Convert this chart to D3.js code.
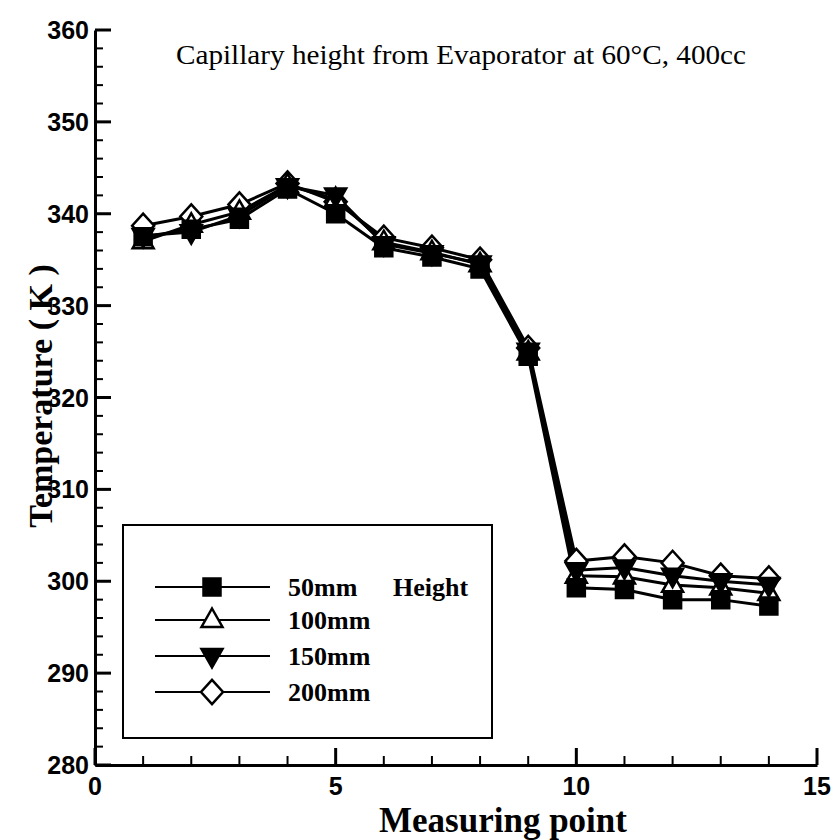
<!DOCTYPE html>
<html><head><meta charset="utf-8">
<script src="https://cdn.jsdelivr.net/npm/d3@7"></script>
<style>body{margin:0;background:#fff}svg{display:block}</style>
</head><body>
<script>
const points = [1,2,3,4,5,6,7,8,9,10,11,12,13,14];
const h50  = [337.5,338.3,339.4,342.7,340.0,336.3,335.3,334.0,324.5,299.3,299.1,298.0,298.0,297.3];
const h100 = [337.0,338.8,340.2,343.1,341.6,336.9,335.8,334.5,324.9,300.6,300.5,299.6,299.3,298.7];
const h150 = [337.6,338.0,339.8,343.0,342.0,336.7,335.7,334.6,325.1,301.2,301.5,300.6,300.0,299.6];
const h200 = [338.7,339.7,341.0,343.3,341.3,337.4,336.3,335.0,325.4,302.2,302.7,302.0,300.6,300.3];
const seriesNames = ["50mm","100mm","150mm","200mm"];
const xTicks = [0,5,10,15];
const yTicks = [280,290,300,310,320,330,340,350,360];
const titleText = "Capillary height from Evaporator at 60°C, 400cc";
const xTitle = "Measuring point";
const yTitle = "Temperature ( K )";
const legendNote = "Height";

const W=840,H=840;
const svg=d3.select("body").append("svg").attr("width",W).attr("height",H);
const x=d3.scaleLinear().domain([0,15]).range([95,817]);
const y=d3.scaleLinear().domain([280,360]).range([765,30]);

// custom symbols (size = half extent)
const sq={draw(c,s){c.rect(-s,-s,2*s,2*s);}};
const triUp={draw(c,s){const h=s*1.15;c.moveTo(0,-h);c.lineTo(s*1.05,h*0.6);c.lineTo(-s*1.05,h*0.6);c.closePath();}};
const triDown={draw(c,s){const h=s*1.15;c.moveTo(0,h);c.lineTo(s*1.05,-h*0.6);c.lineTo(-s*1.05,-h*0.6);c.closePath();}};
const dia={draw(c,s){c.moveTo(0,-s*1.1);c.lineTo(s,0);c.lineTo(0,s*1.1);c.lineTo(-s,0);c.closePath();}};

const series=[
 {name:seriesNames[0],vals:h50,type:sq,size:8.5,fill:"#000"},
 {name:seriesNames[1],vals:h100,type:triUp,size:10,fill:"#fff"},
 {name:seriesNames[2],vals:h150,type:triDown,size:10,fill:"#000"},
 {name:seriesNames[3],vals:h200,type:dia,size:11,fill:"#fff"}
];

// axes
const gx=svg.append("g").attr("transform","translate(0,765)");
gx.call(d3.axisBottom(x).tickValues(d3.range(0,16,1)).tickSize(0).tickFormat(""));
gx.select(".domain").attr("stroke","#000").attr("stroke-width",3);
gx.selectAll(".tick line").remove();
gx.selectAll(".mt").data(d3.range(0,16,1)).enter().append("line")
 .attr("x1",d=>x(d)).attr("x2",d=>x(d)).attr("y1",0).attr("y2",d=>d%5===0?-17:-9)
 .attr("stroke","#000").attr("stroke-width",d=>d%5===0?3:2);
gx.selectAll(".lab").data(xTicks).enter().append("text")
 .attr("x",d=>x(d)).attr("y",30).attr("text-anchor","middle").attr("fill","#000")
 .attr("font-family","Liberation Sans, Arial, sans-serif").attr("font-weight","bold").attr("font-size",25)
 .text(d=>d);

const gy=svg.append("g").attr("transform","translate(95,0)");
gy.call(d3.axisLeft(y).tickValues([]).tickSize(0));
gy.select(".domain").attr("stroke","#000").attr("stroke-width",3);
gy.selectAll(".mt").data(d3.range(280,361,2)).enter().append("line")
 .attr("y1",d=>y(d)).attr("y2",d=>y(d)).attr("x1",0).attr("x2",d=>d%10===0?16:8)
 .attr("stroke","#000").attr("stroke-width",d=>d%10===0?3:2);
gy.selectAll(".lab").data(yTicks).enter().append("text")
 .attr("x",-6).attr("y",d=>y(d)+9).attr("text-anchor","end").attr("fill","#000")
 .attr("font-family","Liberation Sans, Arial, sans-serif").attr("font-weight","bold").attr("font-size",25)
 .text(d=>d);

// titles
svg.append("text").attr("x",461).attr("y",64).attr("text-anchor","middle")
 .attr("font-family","Liberation Serif, Times New Roman, serif").attr("font-size",27)
 .attr("textLength",570).attr("lengthAdjust","spacingAndGlyphs").text(titleText);
svg.append("text").attr("x",503).attr("y",832).attr("text-anchor","middle")
 .attr("font-family","Liberation Serif, Times New Roman, serif").attr("font-weight","bold").attr("font-size",35)
 .text(xTitle);
svg.append("text").attr("transform","translate(52,396) rotate(-90)").attr("text-anchor","middle")
 .attr("font-family","Liberation Serif, Times New Roman, serif").attr("font-weight","bold").attr("font-size",34)
 .text(yTitle);

// lines
const line=d3.line().x((d,i)=>x(points[i])).y(d=>y(d));
series.forEach(s=>{
 svg.append("path").datum(s.vals).attr("d",line).attr("fill","none").attr("stroke","#000").attr("stroke-width",3);
});
// markers
[3,1,2,0].forEach(k=>{
 const s=series[k];
 svg.selectAll(".m"+k).data(s.vals).enter().append("path")
  .attr("transform",(d,i)=>`translate(${x(points[i])},${y(d)})`)
  .attr("d",d3.symbol().type(s.type).size(s.size))
  .attr("fill",s.fill).attr("stroke","#000").attr("stroke-width",2.5);
});

// legend
const lg=svg.append("g");
lg.append("rect").attr("x",123).attr("y",525).attr("width",369).attr("height",213)
 .attr("fill","#fff").attr("stroke","#000").attr("stroke-width",2);
const rows=[587,620,656,692];
series.forEach((s,k)=>{
 lg.append("line").attr("x1",155).attr("x2",270).attr("y1",rows[k]).attr("y2",rows[k]).attr("stroke","#000").attr("stroke-width",2);
 lg.append("path").attr("transform",`translate(212,${rows[k]})`).attr("d",d3.symbol().type(s.type).size(s.size))
  .attr("fill",s.fill).attr("stroke","#000").attr("stroke-width",2.5);
 lg.append("text").attr("x",288).attr("y",rows[k]+9)
  .attr("font-family","Liberation Serif, Times New Roman, serif").attr("font-weight","bold").attr("font-size",26)
  .text(s.name);
});
lg.append("text").attr("x",393).attr("y",rows[0]+9)
 .attr("font-family","Liberation Serif, Times New Roman, serif").attr("font-weight","bold").attr("font-size",26)
 .text(legendNote);
</script>
</body></html>
